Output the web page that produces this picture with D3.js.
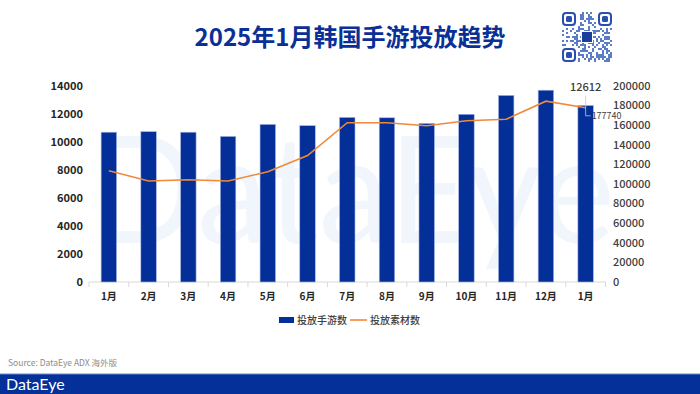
<!DOCTYPE html>
<html>
<head>
<meta charset="utf-8">
<script src="https://cdn.jsdelivr.net/npm/d3@7"></script>
<style>
  body { margin: 0; background: #fff; }
  svg { display: block; font-family: "Noto Sans CJK SC", "Noto Sans", sans-serif; }
</style>
</head>
<body>
<div id="chart"></div>
<script>
const width = 700;
const height = 394;

// data
const months = ['1月', '2月', '3月', '4月', '5月', '6月', '7月', '8月', '9月', '10月', '11月', '12月', '1月 '];
const games = [10700, 10740, 10700, 10400, 11260, 11170, 11760, 11730, 11330, 11980, 13330, 13700, 12612];
const creatives = [113500, 103000, 104400, 103000, 112500, 129000, 162500, 162500, 159500, 164500, 166000, 184500, 177740];
const leftTicks = [0, 2000, 4000, 6000, 8000, 10000, 12000, 14000];
const rightTicks = [0, 20000, 40000, 60000, 80000, 100000, 120000, 140000, 160000, 180000, 200000];

const blue = '#042f99';
const orange = '#f0893a';

const svg = d3.select('#chart').append('svg')
    .attr('width', width)
    .attr('height', height);

// scales
const x = d3.scaleBand().domain(months).range([89, 605.5]).paddingInner(0).paddingOuter(0);
const yL = d3.scaleLinear().domain([0, 14000]).range([282, 86]);
const yR = d3.scaleLinear().domain([0, 200000]).range([282, 86]);

// watermark
svg.append('text')
    .attr('x', 90).attr('y', 243)
    .attr('textLength', 525)
    .attr('lengthAdjust', 'spacingAndGlyphs')
    .style('font-family', 'Lato, "Noto Sans", sans-serif')
    .style('font-size', '150px')
    .style('fill', '#f1f5fc')
    .text('DataEye');

// title
svg.append('text')
    .attr('x', 350).attr('y', 46)
    .attr('text-anchor', 'middle')
    .style('font-size', '24px')
    .style('font-weight', 700)
    .style('fill', '#0a2f96')
    .text('2025年1月韩国手游投放趋势');

// fake qr code (decoration)
const qr = svg.append('g').attr('transform', 'translate(562,12)');
const cell = 2;
const n = 25;
for (let i = 0; i < n; i++) {
    for (let j = 0; j < n; j++) {
        const inFinder = (i < 8 && j < 8) || (i >= n - 8 && j < 8) || (i < 8 && j >= n - 8);
        if (inFinder) continue;
        const h = ((i * 73856093) ^ (j * 19349663) ^ (i * j * 83492791)) >>> 0;
        if (h % 7 < 3) {
            qr.append('rect').attr('x', i * cell).attr('y', j * cell)
                .attr('width', cell).attr('height', cell).attr('fill', '#5b7cc7');
        }
    }
}
[[0, 0], [n - 7, 0], [0, n - 7]].forEach(([i, j]) => {
    qr.append('rect').attr('x', i * cell + 1).attr('y', j * cell + 1).attr('width', 12).attr('height', 12)
        .attr('rx', 3).attr('fill', 'none').attr('stroke', '#2a4fae').attr('stroke-width', 2);
    qr.append('rect').attr('x', i * cell + 4).attr('y', j * cell + 4).attr('width', 6).attr('height', 6)
        .attr('rx', 1.5).attr('fill', '#2a4fae');
});
qr.append('rect').attr('x', 19).attr('y', 19).attr('width', 12).attr('height', 12).attr('fill', '#fff');
qr.append('rect').attr('x', 20).attr('y', 20).attr('width', 10).attr('height', 10).attr('fill', '#1d3f9c');

// x axis
const xAxis = svg.append('g')
    .attr('transform', 'translate(0,282)');
xAxis.append('line')
    .attr('x1', 89).attr('x2', 605.5)
    .attr('stroke', '#d9d9d9');
xAxis.selectAll('.tk')
    .data(months.concat(['end']))
    .join('line')
    .attr('x1', (d, i) => 89 + i * x.bandwidth())
    .attr('x2', (d, i) => 89 + i * x.bandwidth())
    .attr('y1', 0).attr('y2', 5)
    .attr('stroke', '#d9d9d9');
xAxis.selectAll('.lbl')
    .data(months)
    .join('text')
    .attr('x', d => x(d) + x.bandwidth() / 2)
    .attr('y', 18)
    .attr('text-anchor', 'middle')
    .style('font-size', '10px')
    .style('font-weight', 700)
    .style('fill', '#262626')
    .text(d => d.trim());

// left axis labels
svg.append('g').selectAll('text')
    .data(leftTicks)
    .join('text')
    .attr('x', 83)
    .attr('y', d => yL(d))
    .attr('dy', '0.35em')
    .attr('text-anchor', 'end')
    .style('font-size', '11px')
    .style('font-weight', 700)
    .style('fill', '#262626')
    .text(d => d);

// right axis labels
svg.append('g').selectAll('text')
    .data(rightTicks)
    .join('text')
    .attr('x', 613)
    .attr('y', d => yR(d))
    .attr('dy', '0.35em')
    .attr('text-anchor', 'start')
    .style('font-size', '11px')
    .style('font-weight', 500)
    .style('fill', '#404040')
    .text(d => d);

// bars
const barW = 15.5;
svg.append('g').selectAll('rect')
    .data(games)
    .join('rect')
    .attr('x', (d, i) => x(months[i]) + x.bandwidth() / 2 - barW / 2)
    .attr('y', d => yL(d))
    .attr('width', barW)
    .attr('height', d => 282 - yL(d))
    .attr('fill', blue)
    .attr('stroke', '#a9b9e3')
    .attr('stroke-width', 0.6);

// line
const line = d3.line()
    .x((d, i) => x(months[i]) + x.bandwidth() / 2)
    .y(d => yR(d));
svg.append('path')
    .datum(creatives)
    .attr('d', line)
    .attr('fill', 'none')
    .attr('stroke', orange)
    .attr('stroke-width', 1.6);

// last point labels
const lastX = x(months[months.length - 1]) + x.bandwidth() / 2;
svg.append('text')
    .attr('x', lastX)
    .attr('y', yL(games[games.length - 1]) - 14)
    .attr('text-anchor', 'middle')
    .style('font-size', '11px')
    .style('font-weight', 500)
    .style('fill', '#404040')
    .text(games[games.length - 1]);
svg.append('path')
    .attr('d', `M${lastX},${yL(games[games.length - 1]) - 10}V${yR(creatives[creatives.length - 1]) + 8}h5`)
    .attr('fill', 'none')
    .attr('stroke', '#c8c8c8')
    .attr('stroke-width', 0.8);
svg.append('text')
    .attr('x', lastX + 6)
    .attr('y', yR(creatives[creatives.length - 1]) + 8)
    .attr('dy', '0.35em')
    .style('font-size', '9px')
    .style('fill', '#404040')
    .text(creatives[creatives.length - 1]);

// legend
const lg = svg.append('g').attr('transform', 'translate(279,320)');
lg.append('rect').attr('x', 0).attr('y', -3).attr('width', 15).attr('height', 6).attr('fill', blue);
lg.append('text').attr('x', 18).attr('y', 0).attr('dy', '0.35em')
    .style('font-size', '10px').style('font-weight', 500).style('fill', '#404040').text('投放手游数');
lg.append('line').attr('x1', 71).attr('x2', 88).attr('y1', 0).attr('y2', 0)
    .attr('stroke', orange).attr('stroke-width', 1.6);
lg.append('text').attr('x', 91).attr('y', 0).attr('dy', '0.35em')
    .style('font-size', '10px').style('font-weight', 500).style('fill', '#404040').text('投放素材数');

// source
svg.append('text')
    .attr('x', 8).attr('y', 366)
    .style('font-size', '8.5px')
    .style('fill', '#8c8c8c')
    .text('Source: DataEye ADX 海外版');

// footer band
svg.append('rect').attr('x', 0).attr('y', 374).attr('width', width).attr('height', 20).attr('fill', '#04309a');
svg.append('rect').attr('x', 0).attr('y', 373.5).attr('width', width).attr('height', 1).attr('fill', '#6f86c8');
svg.append('text')
    .attr('x', 6).attr('y', 390)
    .style('font-family', 'Lato, "Noto Sans", sans-serif')
    .style('font-size', '16px')
    .style('fill', '#fff')
    .text('DataEye');
</script>
</body>
</html>
